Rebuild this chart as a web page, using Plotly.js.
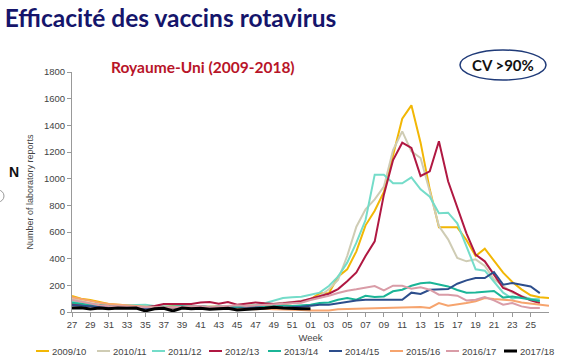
<!DOCTYPE html>
<html>
<head>
<meta charset="utf-8">
<script src="https://cdn.plot.ly/plotly-3.0.1.min.js"></script>
<style>html,body{margin:0;padding:0;background:#fff;}#chart{width:585px;height:360px;}</style>
</head>
<body>
<div id="chart"></div>
<script>
// Week labels (season runs from week 27 to week 26 of the following year)
const weeks = ['27','28','29','30','31','32','33','34','35','36','37','38','39','40','41','42','43','44','45','46','47','48','49','50','51','52',
               '01','02','03','04','05','06','07','08','09','10','11','12','13','14','15','16','17','18','19','20','21','22','23','24','25','26'];

const seasons = ['2009/10','2010/11','2011/12','2012/13','2013/14','2014/15','2015/16','2016/17','2017/18'];

const s2009 = [120,100,90,75,60,55,50,45,40,40,40,45,40,45,40,40,45,40,40,45,50,50,55,60,65,75,
               95,140,140,265,320,455,650,760,900,1170,1450,1550,1270,920,635,635,635,540,420,475,385,295,225,170,125,110,105];
const s2010 = [100,80,65,55,50,50,45,45,40,40,40,40,45,40,40,45,40,40,45,45,50,55,60,70,75,85,
               95,120,170,240,420,640,770,845,940,1215,1355,1205,1155,905,645,545,405,380,395,345,245,195,145,120,95,80];
const s2011 = [80,70,60,55,50,45,50,55,55,45,40,40,40,45,45,35,40,45,40,45,50,65,85,105,110,115,
               130,145,195,265,370,520,690,1030,1030,965,965,1010,920,865,740,745,665,490,320,310,230,145,100,115,100,95];
const s2012 = [60,55,50,45,40,40,40,40,35,45,60,60,60,60,72,75,62,75,55,65,72,65,60,65,70,80,
               100,117,137,172,230,297,420,530,880,1140,1270,1230,1020,1055,1280,980,790,590,430,380,280,180,155,117,87,67];
const s2013 = [70,60,55,50,45,40,35,40,35,30,35,40,45,40,45,35,40,35,40,35,45,40,45,50,45,50,
               55,67,72,92,105,92,122,112,117,155,167,197,215,222,205,192,165,145,147,155,158,108,117,105,92,82];
const s2014 = [50,45,40,40,35,35,30,30,25,30,30,30,35,30,30,25,30,30,25,30,35,30,30,35,35,40,
               47,55,55,67,80,87,92,92,97,97,92,145,135,167,172,172,212,237,255,255,300,205,217,205,192,142];
const s2015 = [110,95,85,70,60,55,55,50,45,40,30,35,30,25,30,30,25,25,20,25,20,25,20,20,20,15,
               12,10,12,20,22,25,30,30,30,35,37,37,37,30,67,47,55,67,80,105,97,92,87,72,62,55,47];
const s2016 = [90,75,60,50,45,45,40,40,35,35,30,35,40,40,45,35,40,45,50,45,50,55,60,60,65,70,
               90,105,122,142,160,170,182,195,162,197,197,175,185,167,130,130,122,87,92,112,87,55,67,42,30,30];
const s2017 = [30,32,22,30,25,30,28,30,8,25,28,8,30,25,28,20,25,28,15,22,25,28,35,30,25,25,25];

const seriesData = [s2009,s2010,s2011,s2012,s2013,s2014,s2015,s2016,s2017];
const colors = ['#F2B705','#CFCCB4','#74DCC9','#B01842','#1BB597','#2D4E8C','#F6A46E','#D99CA7','#000000'];
const widths = [2,2,2,2,2,2,2,2,3];

const traces = seriesData.map((ys,i)=>({
  x: ys.map((_,k)=>k),
  y: ys,
  type:'scatter', mode:'lines',
  name: seasons[i],
  line:{color:colors[i], width:widths[i]},
  hoverinfo:'skip'
}));

const tickvals = [], ticktext = [];
for(let k=0;k<weeks.length;k+=2){ tickvals.push(k); ticktext.push(weeks[k]); }

const L=72, R=36, T=72, B=48, W=585, H=360;
const pw = W-L-R, ph = H-T-B;
const px = x => (x-L)/pw;
const py = y => (H-B-y)/ph;

// legend positions (pixel x of sample line start)
const legX = [36, 97, 152, 209, 268, 329, 390, 446, 504];
const legY = 351;
const legShapes = seasons.map((s,i)=>({type:'line', xref:'paper', yref:'paper',
  x0:px(legX[i]), x1:px(legX[i]+13), y0:py(legY), y1:py(legY),
  line:{color:colors[i], width:i===8?3:2}}));
const legAnn = seasons.map((s,i)=>({text:s, xref:'paper', yref:'paper', x:px(legX[i]+14), y:py(legY),
  xanchor:'left', yanchor:'middle', showarrow:false, font:{size:9.5, color:'#444'}}));

const layout = {
  width:W, height:H,
  margin:{l:L,r:R,t:T,b:B},
  paper_bgcolor:'#fff', plot_bgcolor:'#fff',
  font:{family:'Liberation Sans, Arial, sans-serif', size:9, color:'#444'},
  title:{text:'Efficacité des vaccins rotavirus', x:0.008, xanchor:'left', xref:'container',
         y:1-18/H, yanchor:'middle', yref:'container',
         font:{family:'Lato, sans-serif', size:24.5, color:'#15156B', weight:'bold'}},
  showlegend:false,
  xaxis:{range:[0,52], tickvals:tickvals, ticktext:ticktext, showgrid:false, zeroline:false, automargin:false,
         showline:true, linecolor:'#999', linewidth:1, ticks:'outside', ticklen:4, tickcolor:'#999',
         tickfont:{size:9.5, color:'#444'},
         title:{text:'Week', font:{size:9.5, color:'#444'}, standoff:4}},
  yaxis:{range:[0,1800], dtick:200, showgrid:false, zeroline:false, automargin:false,
         showline:true, linecolor:'#999', linewidth:1, ticks:'outside', ticklen:4, tickcolor:'#999',
         tickfont:{size:9.5, color:'#444'},
         title:{text:'Number of laboratory reports', font:{size:9, color:'#444'}, standoff:8}},
  annotations:[
    {text:'<b>Royaume-Uni (2009-2018)</b>', xref:'paper', yref:'paper', x:px(203), y:py(67),
     xanchor:'center', yanchor:'middle', showarrow:false,
     font:{family:'Lato, sans-serif', size:15.5, color:'#B81428'}},
    {text:'<b>CV >90%</b>', xref:'paper', yref:'paper', x:px(503), y:py(65),
     xanchor:'center', yanchor:'middle', showarrow:false,
     font:{family:'Lato, sans-serif', size:15, color:'#111'}},
    {text:'<b>N</b>', xref:'paper', yref:'paper', x:px(14), y:py(172),
     xanchor:'center', yanchor:'middle', showarrow:false,
     font:{family:'Liberation Sans, Arial, sans-serif', size:14, color:'#111'}}
  ].concat(legAnn),
  shapes:[
    {type:'circle', xref:'paper', yref:'paper', x0:px(460), x1:px(546), y0:py(80), y1:py(50),
     line:{color:'#1F3A78', width:1.5}},
    {type:'circle', xref:'paper', yref:'paper', x0:px(-8), x1:px(4), y0:py(202), y1:py(190),
     line:{color:'#999', width:1}}
  ].concat(legShapes)
};

Plotly.newPlot('chart', traces, layout, {displayModeBar:false, staticPlot:true});
</script>
</body>
</html>
